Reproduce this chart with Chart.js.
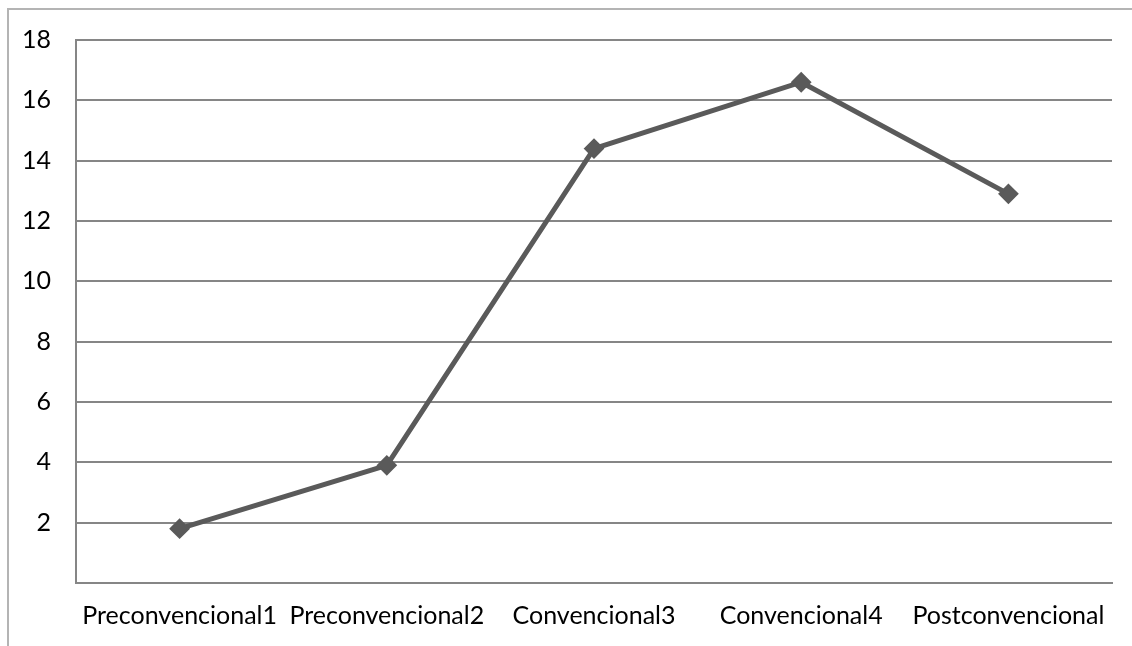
<!DOCTYPE html>
<html>
<head>
<meta charset="utf-8">
<script src="https://cdn.jsdelivr.net/npm/chart.js@4.4.1/dist/chart.umd.min.js"></script>
<style>
  html, body { margin: 0; padding: 0; background: #ffffff; overflow: hidden; }
  #wrap { position: relative; width: 1132px; height: 646px; overflow: hidden; }
  #frame { position: absolute; left: 7px; top: 8px; width: 1200px; height: 700px;
           border: 2px solid #b4b4b4; box-sizing: border-box; pointer-events: none; }
  canvas { position: absolute; left: 0; top: 0; }
</style>
</head>
<body>
<div id="wrap">
  <div id="frame"></div>
  <canvas id="chart" width="1132" height="646"></canvas>
</div>
<script>
// Stage categories and scores
const categories = ['Preconvencional1', 'Preconvencional2', 'Convencional3', 'Convencional4', 'Postconvencional'];
const scores = [1.8, 3.9, 14.4, 16.6, 12.9];
const yTicks = [0, 2, 4, 6, 8, 10, 12, 14, 16, 18];

const labelFont = { family: 'Lato', size: 25 };

new Chart(document.getElementById('chart'), {
  type: 'line',
  data: {
    labels: categories,
    datasets: [{
      data: scores,
      borderColor: '#5a5a5a',
      borderWidth: 5,
      backgroundColor: '#5a5a5a',
      pointStyle: 'rectRot',
      pointRadius: 9,
      pointBorderWidth: 2,
      pointBorderColor: '#5a5a5a',
      pointBackgroundColor: '#5a5a5a',
      tension: 0,
      fill: false
    }]
  },
  options: {
    responsive: false,
    animation: false,
    devicePixelRatio: 1,
    layout: { padding: { left: 0, right: 20, top: 38, bottom: 0 } },
    plugins: { legend: { display: false }, tooltip: { enabled: false } },
    scales: {
      x: {
        type: 'category',
        offset: true,
        grid: { display: false, drawTicks: false },
        border: { display: true, color: '#868686', width: 2 },
        ticks: { color: '#000000', font: labelFont, padding: 18, maxRotation: 0, autoSkip: false },
        afterFit: (scale) => { scale.height = 63; }
      },
      y: {
        min: 0,
        max: 18,
        afterBuildTicks: (scale) => { scale.ticks = yTicks.map(v => ({ value: v })); },
        grid: { color: '#868686', lineWidth: 2, drawTicks: false },
        border: { display: true, color: '#868686', width: 2 },
        ticks: {
          color: '#000000', font: labelFont, padding: 25,
          callback: (v) => (v === 0 ? '' : String(v))
        },
        afterFit: (scale) => { scale.width = 76; }
      }
    }
  }
});
</script>
</body>
</html>
